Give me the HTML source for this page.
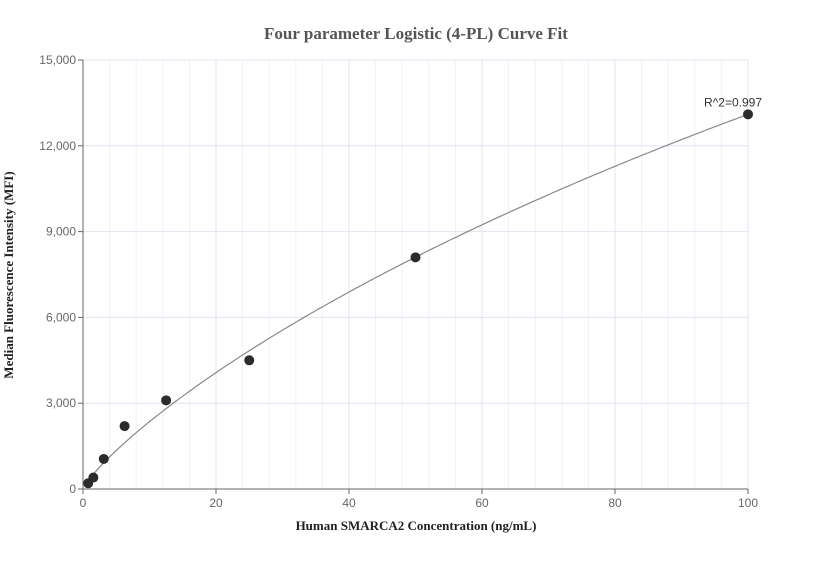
<!DOCTYPE html>
<html><head><meta charset="utf-8"><style>
body{margin:0;background:#fff;}
svg text{font-family:"Liberation Sans",sans-serif;}
</style></head><body>
<svg id="chart" width="832" height="560" xmlns="http://www.w3.org/2000/svg">
<text x="416" y="39" text-anchor="middle" font-weight="bold" font-size="17" fill="#555" style="font-family:'Liberation Serif',serif">Four parameter Logistic (4-PL) Curve Fit</text>
<g id="grid"></g>
<g id="axes"></g>
<path id="curve" fill="none" stroke="#888" stroke-width="1.2"/>
<g id="points"></g>
<text x="416" y="530" text-anchor="middle" font-weight="bold" font-size="13" fill="#222" style="font-family:'Liberation Serif',serif">Human SMARCA2 Concentration (ng/mL)</text>
<text transform="translate(13,275) rotate(-90)" text-anchor="middle" font-weight="bold" font-size="13" fill="#222" style="font-family:'Liberation Serif',serif">Median Fluorescence Intensity (MFI)</text>
</svg>
<script>
const xValues=[0.78,1.56,3.125,6.25,12.5,25,50,100];
const yValues=[200,400,1050,2200,3100,4500,8100,13100];
const xTicks=[0,20,40,60,80,100];
const yTicks=[0,3000,6000,9000,12000,15000];
const fitParams=[0,0.83,500,62920];
const r2Label="R^2=0.997";
const NS="http://www.w3.org/2000/svg";
const X0=83,X1=748,Y0=489,Y1=60;
const sx=v=>X0+(v-0)/(100-0)*(X1-X0);
const sy=v=>Y0-(v-0)/(15000-0)*(Y0-Y1);
function mk(t,a,p){const e=document.createElementNS(NS,t);for(const k in a)e.setAttribute(k,a[k]);p.appendChild(e);return e;}
const grid=document.getElementById('grid'),axes=document.getElementById('axes');
for(let v=4;v<=100;v+=4){const l=mk('line',{x1:sx(v),x2:sx(v),y1:Y1,y2:Y0,stroke:'#f0f2f9'},grid);

}
xTicks.forEach(v=>{if(v>0){const l=mk('line',{x1:sx(v),x2:sx(v),y1:Y1,y2:Y0,stroke:'#e0e4f0'},grid);

}
const t=mk('text',{x:sx(v),y:Y0+18,'text-anchor':'middle','font-size':12,fill:'#666'},axes);t.textContent=v;


mk('line',{x1:sx(v),x2:sx(v),y1:Y0,y2:Y0+5,stroke:'#666'},axes);});
yTicks.forEach(v=>{if(v>0){const l=mk('line',{x1:X0,x2:X1,y1:sy(v),y2:sy(v),stroke:'#e0e4f0'},grid);

}
const t=mk('text',{x:X0-7,y:sy(v)+4,'text-anchor':'end','font-size':12,fill:'#666'},axes);t.textContent=v.toLocaleString('en-US');


mk('line',{x1:X0-5,x2:X0,y1:sy(v),y2:sy(v),stroke:'#666'},axes);});
mk('line',{x1:X0,x2:X0,y1:Y1,y2:Y0,stroke:'#666'},axes);
mk('line',{x1:X0,x2:X1,y1:Y0,y2:Y0,stroke:'#666'},axes);
const [a,b,c,d]=fitParams;
const f=x=>d+(a-d)/(1+Math.pow(x/c,b));
let p='';for(let i=0;i<=200;i++){const x=0.78+(100-0.78)*i/200;p+=(i?'L':'M')+sx(x).toFixed(1)+','+sy(f(x)).toFixed(1);}
document.getElementById('curve').setAttribute('d',p);
const pts=document.getElementById('points');
xValues.forEach((x,i)=>{const cc=mk('circle',{cx:sx(x),cy:sy(yValues[i]),r:5,fill:'#2b2b2b'},pts);

});
const r=mk('text',{x:sx(100)-15,y:sy(13100)-8,'text-anchor':'middle','font-size':12,fill:'#333'},pts);r.textContent=r2Label;


</script>
</body></html>
